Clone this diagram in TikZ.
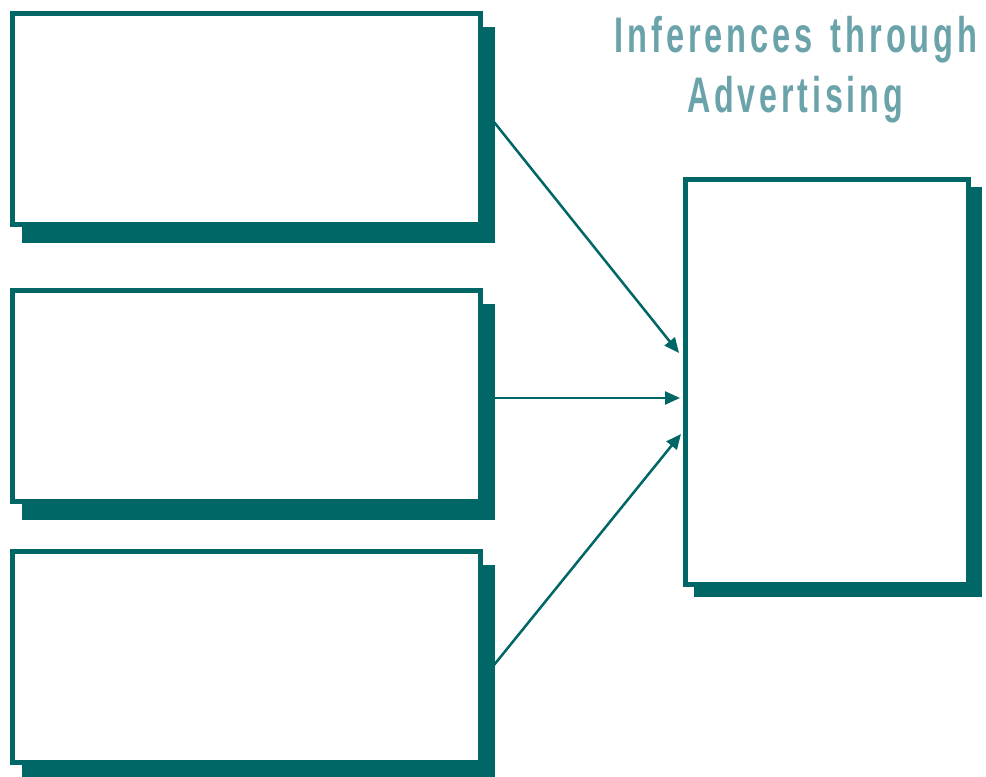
\documentclass[tikz,border=0pt]{standalone}
\usepackage{fontspec}
\setmainfont{Liberation Sans}
\newfontfamily\titlefont[LetterSpace=12]{Liberation Sans}
\usetikzlibrary{arrows.meta,shadows}
\definecolor{tealdark}{HTML}{006666}
\definecolor{titleteal}{HTML}{6BA3AA}
\begin{document}
\begin{tikzpicture}[x=1pt,y=-1pt,
  box/.style={draw=tealdark, line width=5pt, fill=white, inner sep=0pt, rectangle,
    general shadow={fill=tealdark, draw=tealdark, line width=5pt, shadow xshift=12pt, shadow yshift=-16pt}},
  rbox/.style={draw=tealdark, line width=5pt, fill=white, inner sep=0pt, rectangle,
    general shadow={fill=tealdark, draw=tealdark, line width=5pt, shadow xshift=11pt, shadow yshift=-10pt}},
  conn/.style={draw=tealdark, line width=2.5pt, -{Triangle[length=15pt,width=13pt]}},
  title/.style={text=titleteal, inner sep=0pt, anchor=base, font=\titlefont\bfseries\fontsize{50}{60}\selectfont}]
\useasboundingbox (0,0) rectangle (986,777);
\node[box, minimum width=468pt, minimum height=211pt] (b1) at (246.5,119) {};
\node[box, minimum width=468pt, minimum height=211pt] (b2) at (246.5,396) {};
\node[box, minimum width=468pt, minimum height=211pt] (b3) at (246.5,657) {};
\node[rbox, minimum width=283pt, minimum height=405pt] (r) at (827,382) {};
\node[title] (t1) at (796,52) {\resizebox{363pt}{\height}{Inferences\hspace{0.55em}through}};
\node[title] (t2) at (795,112) {\resizebox{216pt}{\height}{Advertising}};
\draw[conn] ([xshift=11pt,yshift=-3pt]b1.east) -- ([xshift=-4pt,yshift=29pt]r.west);
\draw[conn] ([xshift=11pt,yshift=-2pt]b2.east) -- ([xshift=-3pt,yshift=-16pt]r.west);
\draw[conn] ([xshift=11pt,yshift=-8pt]b3.east) -- ([xshift=-2pt,yshift=-52pt]r.west);
\end{tikzpicture}
\end{document}
